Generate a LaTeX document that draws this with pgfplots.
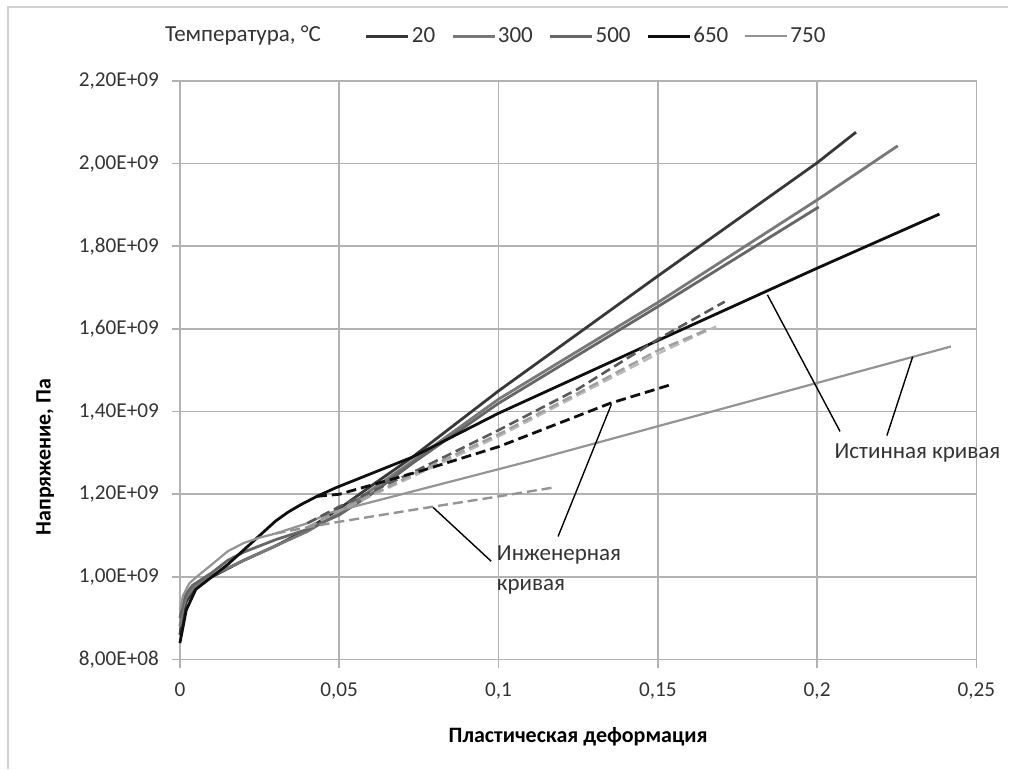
\documentclass[border=0pt]{standalone}
\usepackage{fontspec}
\setmainfont{Carlito}
\usepackage{pgfplots}
\pgfplotsset{compat=1.18}

\definecolor{c20}{gray}{0.22}
\definecolor{c300}{gray}{0.47}
\definecolor{c500}{gray}{0.40}
\definecolor{c650}{gray}{0.06}
\definecolor{c750}{gray}{0.58}
\definecolor{txt}{gray}{0.2}

\begin{document}
\begin{tikzpicture}
\begin{axis}[
    width=398.5pt, height=289.5pt, scale only axis,
    xmin=0, xmax=0.25, ymin=0.8e9, ymax=2.2e9,
    xtick={0,0.05,0.1,0.15,0.2,0.25},
    xticklabels={0,{0,05},{0,1},{0,15},{0,2},{0,25}},
    ytick={0.8e9,1.0e9,1.2e9,1.4e9,1.6e9,1.8e9,2.0e9,2.2e9},
    yticklabels={{8,00E+08},{1,00E+09},{1,20E+09},{1,40E+09},{1,60E+09},{1,80E+09},{2,00E+09},{2,20E+09}},
    scaled y ticks=false,
    xtick pos=bottom, ytick pos=left,
    tick align=outside, major tick length=4pt,
    grid=major,
    major grid style={gray!60, line width=0.8pt},
    axis line style={gray!60, line width=0.8pt},
    tick style={gray!60, line width=0.8pt},
    ticklabel style={font=\fontsize{10.6}{12}\selectfont, text=txt},
    yticklabel style={xshift=-3pt},
    xticklabel style={yshift=-4pt},
    xlabel={\textbf{Пластическая деформация}},
    ylabel={\textbf{Напряжение, Па}},
    label style={font=\fontsize{11}{13}\selectfont, text=black},
    xlabel style={at={(axis description cs:0.5,-0.133)}, anchor=center},
    ylabel style={at={(axis description cs:-0.169,0.35)}, anchor=center},
    clip=false,
    legend columns=-1,
    legend image code/.code={\draw[#1] (0pt,3.3pt) -- (21pt,3.3pt);},
    legend style={draw=none, fill=none, at={(axis description cs:0.232,1.079)}, anchor=west,
        font=\fontsize{11.5}{13}\selectfont, text=txt, inner sep=0pt,
        /tikz/every odd column/.append style={column sep=0pt},
        /tikz/every even column/.append style={column sep=7pt},
        nodes={inner sep=1pt, anchor=base, text depth=0pt}},
]
% true curves (solid)
\addplot[c20, line width=1.4pt] coordinates {
(0,0.86e9) (0.001,0.91e9) (0.002,0.94e9) (0.004,0.965e9) (0.007,0.985e9) (0.01,1.0e9)
(0.02,1.04e9) (0.03,1.075e9) (0.04,1.115e9) (0.05,1.165e9) (0.06,1.22e9) (0.073,1.29e9)
(0.1,1.45e9) (0.15,1.728e9) (0.2,2.002e9) (0.2122,2.076e9)};
\addplot[c300, line width=1.4pt] coordinates {
(0,0.88e9) (0.001,0.925e9) (0.002,0.95e9) (0.004,0.972e9) (0.007,0.99e9) (0.01,1.003e9)
(0.02,1.04e9) (0.03,1.075e9) (0.04,1.11e9) (0.05,1.155e9) (0.06,1.21e9) (0.073,1.28e9)
(0.1,1.43e9) (0.15,1.664e9) (0.2,1.912e9) (0.2253,2.043e9)};
\addplot[c500, line width=1.4pt] coordinates {
(0,0.9e9) (0.001,0.94e9) (0.002,0.96e9) (0.004,0.98e9) (0.007,0.995e9) (0.01,1.01e9)
(0.015,1.04e9) (0.02,1.06e9) (0.03,1.09e9) (0.04,1.115e9) (0.05,1.15e9) (0.06,1.2e9)
(0.073,1.275e9) (0.1,1.42e9) (0.15,1.654e9) (0.2005,1.895e9)};
\addplot[c650, line width=1.4pt] coordinates {
(0,0.84e9) (0.002,0.92e9) (0.005,0.97e9) (0.01,1.0e9) (0.015,1.03e9) (0.02,1.065e9)
(0.025,1.1e9) (0.03,1.135e9) (0.034,1.157e9) (0.038,1.175e9) (0.043,1.195e9) (0.049,1.216e9)
(0.073,1.29e9) (0.1,1.396e9) (0.15,1.572e9) (0.2,1.747e9) (0.2384,1.878e9)};
\addplot[c750, line width=1.1pt] coordinates {
(0,0.92e9) (0.001,0.955e9) (0.003,0.985e9) (0.006,1.005e9) (0.01,1.03e9) (0.015,1.062e9)
(0.02,1.082e9) (0.025,1.095e9) (0.03,1.105e9) (0.04,1.13e9) (0.047,1.155e9)
(0.1097,1.28e9) (0.242,1.5575e9)};
\legend{20,300,500,650,750}
% engineering curves (dashed)
\addplot[gray!70!black, line width=1.3pt, dash pattern=on 5pt off 2.5pt, forget plot] coordinates {
(0.04,1.13e9) (0.05,1.17e9) (0.075,1.26e9) (0.1,1.355e9) (0.125,1.455e9) (0.15,1.575e9) (0.171,1.666e9)};
\addplot[gray!55, line width=1.2pt, dash pattern=on 5pt off 2.5pt, forget plot] coordinates {
(0.04,1.12e9) (0.05,1.16e9) (0.075,1.25e9) (0.1,1.34e9) (0.125,1.44e9) (0.15,1.54e9) (0.1683,1.606e9)};
\addplot[gray!75, line width=1.2pt, dash pattern=on 5pt off 2.5pt, forget plot] coordinates {
(0.04,1.12e9) (0.05,1.16e9) (0.075,1.255e9) (0.1,1.345e9) (0.125,1.445e9) (0.15,1.548e9) (0.166,1.6e9)};
\addplot[c650, line width=1.4pt, dash pattern=on 5pt off 2.5pt, forget plot] coordinates {
(0.043,1.195e9) (0.05,1.2e9) (0.075,1.255e9) (0.1,1.315e9) (0.115,1.36e9) (0.135,1.42e9) (0.154,1.465e9)};
\addplot[c750, line width=1.2pt, dash pattern=on 5pt off 2.5pt, forget plot] coordinates {
(0.03,1.105e9) (0.04,1.12e9) (0.048,1.131e9) (0.0794,1.17e9) (0.0994,1.194e9) (0.117,1.216e9)};
% annotations
\draw[black, line width=0.7pt] (axis cs:0.0977,1.038e9) -- (axis cs:0.0795,1.168e9);
\draw[black, line width=0.7pt] (axis cs:0.1187,1.098e9) -- (axis cs:0.1354,1.417e9);
\draw[black, line width=0.7pt] (axis cs:0.2072,1.352e9) -- (axis cs:0.1844,1.6826e9);
\draw[black, line width=0.7pt] (axis cs:0.2219,1.342e9) -- (axis cs:0.230,1.533e9);
\node[anchor=west, align=left, font=\fontsize{11.5}{15}\selectfont, text=txt, inner sep=0pt]
    at (axis cs:0.0994,1.018e9) {Инженерная\\кривая};
\node[anchor=west, font=\fontsize{11.5}{13}\selectfont, text=txt, inner sep=0pt]
    at (axis cs:0.2054,1.3005e9) {Истинная кривая};
\node[anchor=west, font=\fontsize{11.5}{13}\selectfont, text=txt, inner sep=0pt]
    at (axis description cs:-0.019,1.079) {Температура, °C};
\end{axis}
\draw[gray!35, line width=0.6pt] (-86pt,-54.5pt) -- (-86pt,326.5pt) -- (414.5pt,326.5pt);
\useasboundingbox (-90pt,-54.5pt) rectangle (414.5pt,330pt);
\end{tikzpicture}
\end{document}
